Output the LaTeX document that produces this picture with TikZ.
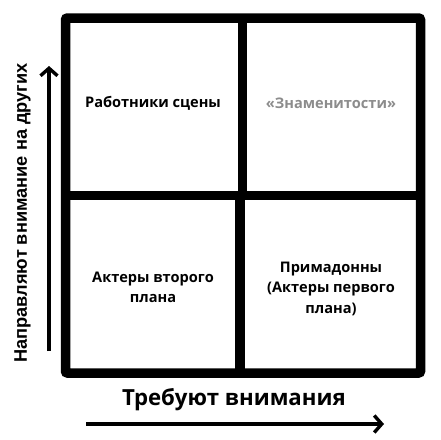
\documentclass[tikz,border=0pt]{standalone}
\usepackage{fontspec}
\setmainfont{Open Sans}
\newfontfamily\axisfont{Liberation Sans}
\usetikzlibrary{arrows.meta}
\begin{document}
\begin{tikzpicture}[x=1pt,y=-1pt,
  frame/.style={line width=9.5pt,rounded corners=2pt},
  divider/.style={line width=9.5pt},
  quad/.style={font=\bfseries\fontsize{14.6}{20.5}\selectfont,align=center},
  axisarrow/.style={line width=3.2pt,-{Straight Barb[length=7.5pt,width=17pt,line width=3.4pt]}},
  ]
\useasboundingbox (0,0) rectangle (441,439);
\coordinate (tl) at (65.5,18);
\coordinate (br) at (420.5,373);
\coordinate (vt) at (242.5,18);
\coordinate (vm) at (242.5,195.5);
\coordinate (vm2) at (240,195.5);
\coordinate (vb) at (240,373);
\coordinate (hl) at (65.5,195.5);
\coordinate (hr) at (420.5,195.5);
\draw[frame] (tl) rectangle (br);
\draw[divider] (vt) -- (vm);
\draw[divider] (vm2) -- (vb);
\draw[divider] (hl) -- (hr);
\node[quad] (q1) at (153,103) {Работники сцены};
\node[quad,text=black!45] (q2) at (331,103) {«Знаменитости»};
\node[quad] (q3) at (153,287.5) {Актеры второго\\плана};
\node[quad] (q4) at (331,288.5) {Примадонны\\(Актеры первого\\плана)};
\node[font=\bfseries\fontsize{22.2}{25}\selectfont] (xl) at (234,400) {Требуют внимания};
\node[font=\axisfont\bfseries\fontsize{18.2}{22}\selectfont,rotate=90] (yl) at (22.5,213) {Направляют внимание на других};
\coordinate (xs) at (86,424);
\coordinate (xe) at (384,424);
\coordinate (ys) at (49,351);
\coordinate (ye) at (49,66);
\draw[axisarrow] (xs) -- (xe);
\draw[axisarrow] (ys) -- (ye);
\end{tikzpicture}
\end{document}
